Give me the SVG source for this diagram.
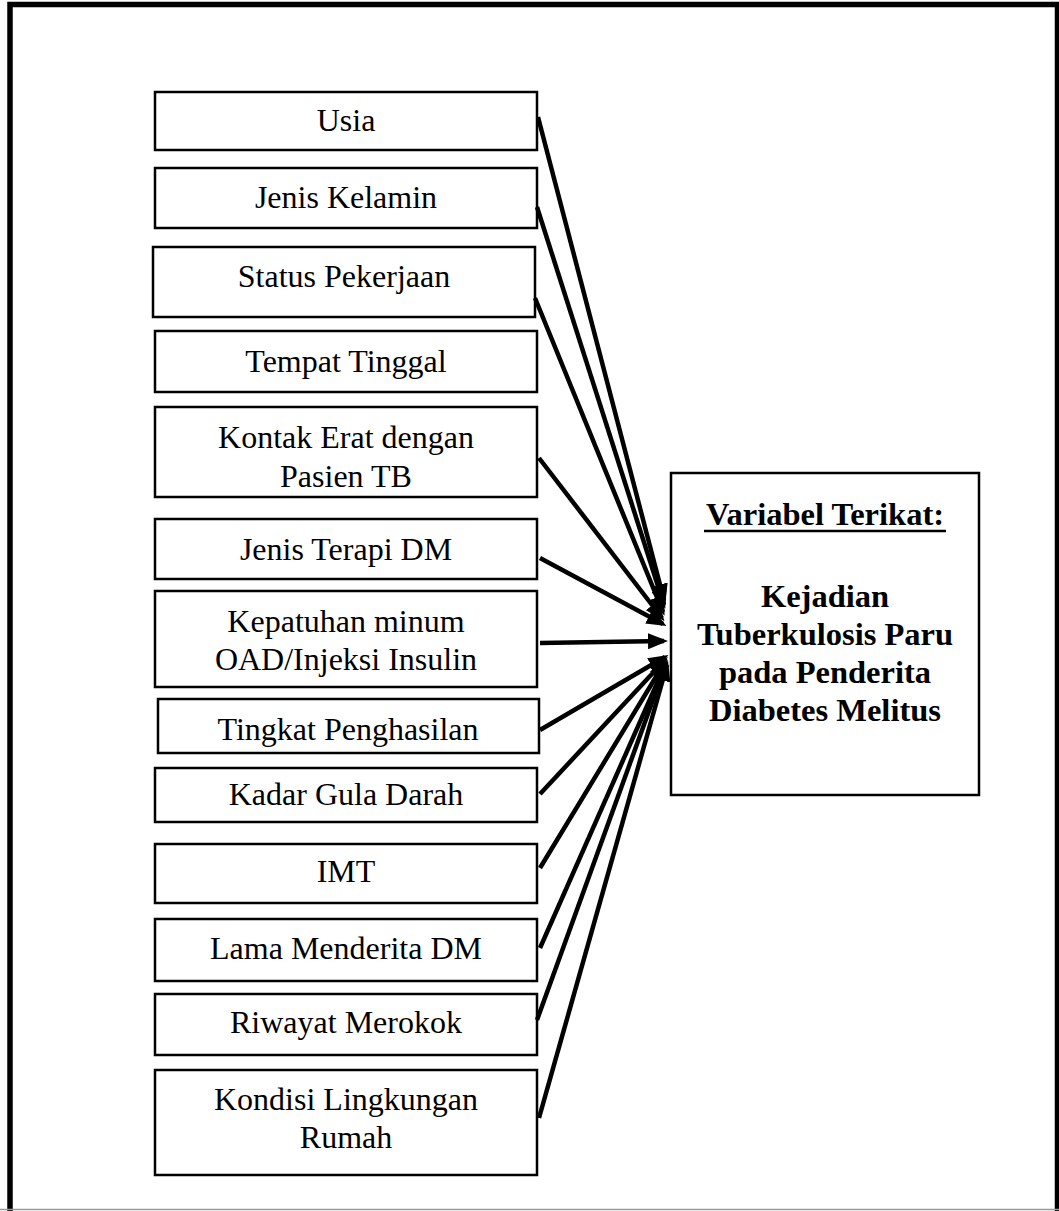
<svg xmlns="http://www.w3.org/2000/svg" width="1059" height="1211" viewBox="0 0 1059 1211">
<style>
.box{fill:#fff;stroke:#000;stroke-width:2.5}
.t{font-family:"Liberation Serif","Times New Roman",serif;font-size:32px;fill:#000;text-anchor:middle}
.tb{font-family:"Liberation Serif","Times New Roman",serif;font-size:32.5px;font-weight:bold;fill:#000;text-anchor:middle}
.c line{stroke:#000;stroke-width:4.5;marker-end:url(#ah)}
</style>
<defs>
<marker id="ah" markerUnits="userSpaceOnUse" markerWidth="20" markerHeight="16" refX="16" refY="8" orient="auto">
<path d="M0,0 L20,8 L0,16 z" fill="#000"/>
</marker>
</defs>
<rect width="1059" height="1211" fill="#fff"/>
<path d="M10,1211 V4.5 H1057.5 V1211" fill="none" stroke="#000" stroke-width="5.5"/>
<line x1="0" y1="1209.5" x2="1059" y2="1209.5" stroke="#999" stroke-width="1.5"/>

<g id="n-usia"><rect class="box" x="155" y="92" width="382" height="58"/><text class="t" x="346" y="131">Usia</text></g>
<g id="n-jk"><rect class="box" x="155" y="168" width="382" height="60"/><text class="t" x="346" y="208">Jenis Kelamin</text></g>
<g id="n-status"><rect class="box" x="153" y="247" width="382" height="70"/><text class="t" x="344" y="287">Status Pekerjaan</text></g>
<g id="n-tempat"><rect class="box" x="155" y="331" width="382" height="61"/><text class="t" x="346" y="372">Tempat Tinggal</text></g>
<g id="n-kontak"><rect class="box" x="155" y="407" width="382" height="90"/><text class="t" x="346" y="448">Kontak Erat dengan</text><text class="t" x="346" y="487">Pasien TB</text></g>
<g id="n-terapi"><rect class="box" x="155" y="519" width="382" height="60"/><text class="t" x="346" y="560">Jenis Terapi DM</text></g>
<g id="n-kepatuhan"><rect class="box" x="155" y="591" width="382" height="96"/><text class="t" x="346" y="632">Kepatuhan minum</text><text class="t" x="346" y="670">OAD/Injeksi Insulin</text></g>
<g id="n-penghasilan"><rect class="box" x="158" y="699" width="381" height="54"/><text class="t" x="348" y="740">Tingkat Penghasilan</text></g>
<g id="n-gula"><rect class="box" x="155" y="768" width="382" height="54"/><text class="t" x="346" y="805">Kadar Gula Darah</text></g>
<g id="n-imt"><rect class="box" x="155" y="844" width="382" height="59"/><text class="t" x="346" y="882">IMT</text></g>
<g id="n-lama"><rect class="box" x="155" y="919" width="382" height="62"/><text class="t" x="346" y="959">Lama Menderita DM</text></g>
<g id="n-rokok"><rect class="box" x="155" y="994" width="382" height="61"/><text class="t" x="346" y="1033">Riwayat Merokok</text></g>
<g id="n-lingkungan"><rect class="box" x="155" y="1070" width="382" height="105"/><text class="t" x="346" y="1110">Kondisi Lingkungan</text><text class="t" x="346" y="1148">Rumah</text></g>

<g id="n-terikat"><rect class="box" x="671" y="473" width="308" height="322"/>
<text class="tb" x="825" y="525">Variabel Terikat:</text>
<line x1="704" y1="531" x2="946" y2="531" stroke="#000" stroke-width="2.5"/>
<text class="tb" x="825" y="607">Kejadian</text>
<text class="tb" x="825" y="645">Tuberkulosis Paru</text>
<text class="tb" x="825" y="683">pada Penderita</text>
<text class="tb" x="825" y="721">Diabetes Melitus</text>
</g>

<g id="connectors" class="c">
<line x1="538" y1="117" x2="664" y2="600"/>
<line x1="537" y1="207" x2="664" y2="605"/>
<line x1="535" y1="298" x2="663" y2="612"/>
<line x1="539" y1="458" x2="662" y2="618"/>
<line x1="540" y1="558" x2="663" y2="624"/>
<line x1="540" y1="643" x2="664" y2="641"/>
<line x1="540" y1="730" x2="665" y2="657"/>
<line x1="540" y1="794" x2="665" y2="660"/>
<line x1="540" y1="868" x2="665" y2="662"/>
<line x1="540" y1="948" x2="666" y2="663"/>
<line x1="537" y1="1020" x2="666" y2="664"/>
<line x1="539" y1="1118" x2="667" y2="665"/>
</g>
</svg>
